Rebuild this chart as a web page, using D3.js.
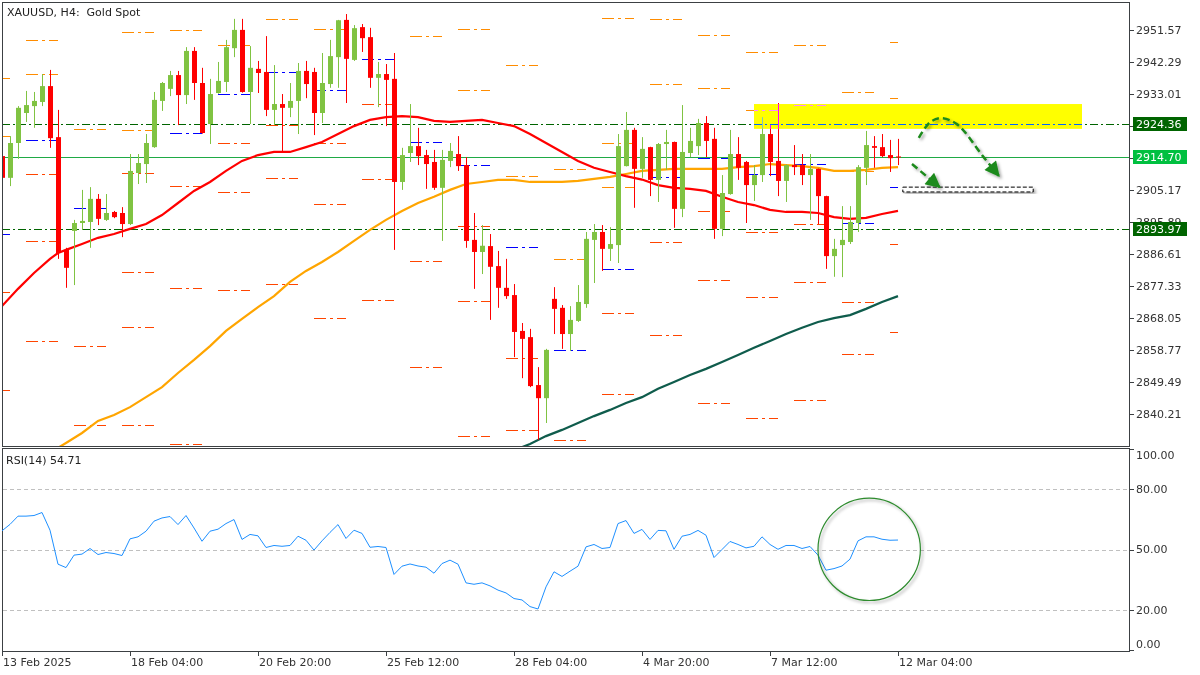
<!DOCTYPE html>
<html><head><meta charset="utf-8">
<script src="https://cdn.jsdelivr.net/npm/d3@7/dist/d3.min.js"></script>
<style>
html,body{margin:0;padding:0;background:#fff;}
svg{display:block;font-family:"DejaVu Sans",Tahoma,sans-serif;}
</style></head><body>
<svg id="c" width="1200" height="675"></svg>
<script>
// ---------------- DATA ----------------
const openP=[2915.0,2908.7,2918.8,2927.5,2929.5,2930.7,2935.3,2920.5,2887.8,2893.3,2895.6,2895.9,2902.6,2896.5,2898.8,2898.5,2895.3,2910.1,2912.7,2917.6,2931.0,2934.5,2938.5,2932.7,2945.5,2936.2,2924.3,2933.3,2936.5,2946.3,2951.6,2933.6,2940.3,2939.4,2928.4,2930.1,2929.0,2931.0,2939.7,2939.4,2927.5,2935.9,2943.7,2954.5,2942.9,2952.4,2949.5,2937.7,2938.8,2937.4,2907.5,2915.9,2917.9,2915.3,2913.3,2905.8,2913.6,2915.6,2912.4,2890.7,2887.2,2888.9,2883.1,2876.8,2874.7,2864.3,2862.5,2848.6,2844.8,2873.6,2871.0,2863.4,2867.2,2872.1,2890.7,2893.0,2888.1,2889.2,2912.1,2922.6,2911.3,2917.6,2908.1,2918.5,2919.1,2899.7,2915.9,2917.9,2924.6,2920.0,2893.9,2904.0,2915.6,2913.3,2906.6,2909.5,2921.4,2913.6,2907.8,2912.4,2912.4,2909.5,2911.3,2903.4,2886.0,2889.2,2890.1,2895.6,2911.6,2917.9,2917.6,2915.3,2914.9];
const highP=[2916.8,2920.8,2929.5,2933.9,2933.6,2938.8,2940.0,2928.4,2888.4,2896.5,2905.2,2906.0,2904.0,2904.0,2899.1,2900.2,2915.6,2915.6,2921.4,2933.6,2936.5,2939.7,2939.7,2946.6,2946.6,2940.6,2937.4,2942.3,2948.7,2954.8,2954.8,2946.9,2942.6,2949.8,2941.4,2933.0,2936.2,2942.0,2942.6,2940.6,2944.9,2948.7,2954.5,2956.2,2953.0,2953.3,2952.2,2942.3,2941.7,2944.9,2917.4,2930.1,2923.2,2916.8,2916.8,2916.8,2918.8,2920.8,2914.7,2898.5,2895.0,2892.4,2887.5,2885.2,2877.9,2866.6,2864.9,2853.8,2859.1,2877.0,2871.8,2871.5,2877.6,2893.0,2895.3,2895.0,2894.4,2921.4,2927.8,2923.2,2920.5,2917.7,2918.8,2922.6,2919.2,2929.8,2923.2,2925.8,2926.6,2923.2,2909.5,2922.6,2920.5,2913.6,2912.4,2926.3,2924.0,2930.4,2912.6,2918.2,2915.6,2915.6,2911.4,2903.5,2891.0,2900.5,2900.5,2912.4,2922.3,2920.8,2921.4,2919.7,2920.0];
const lowP=[2907.5,2906.3,2914.2,2924.9,2923.2,2929.5,2917.4,2885.2,2876.8,2877.6,2893.6,2888.4,2895.0,2896.2,2897.0,2891.5,2895.0,2906.9,2907.2,2917.4,2928.1,2932.4,2924.0,2930.1,2931.3,2921.5,2918.5,2933.1,2933.6,2943.7,2933.4,2924.3,2933.3,2926.6,2924.0,2916.2,2926.3,2921.4,2931.8,2921.1,2924.6,2934.8,2934.8,2930.4,2942.6,2945.2,2934.8,2929.2,2923.7,2887.8,2905.2,2913.3,2912.4,2905.5,2905.2,2890.4,2911.8,2910.7,2888.4,2876.5,2880.8,2867.5,2871.0,2873.6,2856.7,2850.6,2848.0,2832.7,2837.6,2863.4,2859.1,2858.5,2866.9,2871.0,2878.2,2881.7,2884.6,2884.0,2912.0,2900.0,2908.7,2903.4,2901.7,2911.0,2894.2,2897.3,2914.7,2915.3,2914.7,2891.0,2891.8,2903.8,2908.1,2895.6,2902.0,2907.5,2909.2,2903.4,2901.7,2909.5,2906.6,2896.5,2895.3,2882.3,2880.0,2879.9,2889.5,2893.0,2906.6,2911.6,2914.7,2910.4,2912.4];
const closeP=[2908.7,2918.8,2929.0,2929.8,2931.0,2935.3,2920.2,2886.9,2882.6,2895.6,2896.2,2902.6,2896.8,2898.5,2897.3,2895.3,2910.7,2913.0,2918.8,2931.3,2936.2,2938.5,2932.7,2945.5,2936.2,2921.7,2933.0,2936.8,2946.6,2951.6,2933.6,2940.6,2939.1,2928.4,2930.1,2929.0,2931.0,2939.7,2935.9,2927.5,2936.2,2944.0,2954.4,2943.2,2952.1,2949.2,2937.7,2938.8,2937.1,2907.5,2915.3,2917.9,2915.0,2912.7,2905.8,2913.9,2916.5,2912.1,2890.4,2887.2,2889.0,2882.9,2876.8,2874.4,2864.0,2862.0,2848.3,2844.8,2858.8,2870.7,2863.4,2867.5,2872.7,2891.0,2893.0,2888.1,2889.5,2917.9,2922.6,2911.3,2917.1,2908.1,2918.5,2919.1,2899.7,2916.2,2919.4,2924.6,2919.4,2893.9,2904.3,2915.6,2911.6,2906.6,2909.5,2921.4,2913.3,2907.8,2912.4,2911.8,2909.5,2911.3,2903.4,2886.0,2888.1,2890.7,2895.9,2911.8,2918.2,2917.4,2915.0,2914.4,2914.7];

const rsiVals=[59.3,62.5,66.6,66.6,66.9,68.4,59.6,42.7,41.0,47.2,47.7,50.5,47.5,48.5,48.0,47.0,55.3,56.3,59.1,64.1,65.7,66.4,62.4,66.9,60.7,54.1,59.1,60.1,62.9,64.9,55.0,57.5,56.8,51.0,52.0,51.6,52.0,56.6,54.6,49.7,54.3,58.5,62.4,55.5,59.6,58.0,51.1,51.5,51.0,37.6,41.7,42.8,41.8,41.2,38.2,43.0,44.7,42.7,33.4,32.7,33.4,31.9,29.8,28.4,25.6,24.9,21.6,20.4,31.4,38.9,36.6,39.2,41.7,51.3,52.5,50.5,51.0,62.9,64.4,58.0,60.0,55.0,59.5,59.3,50.1,56.6,57.5,59.5,57.1,46.0,50.0,54.0,52.5,50.8,51.6,56.3,52.5,50.1,52.0,52.0,50.5,51.5,47.2,39.7,40.5,41.8,45.2,54.3,56.3,56.3,55.1,54.6,54.71];

const maRedIdx=[0,2,4,6,7,8,10,12,14,16,18,20,22,24,26,28,30,32,34,36,38,40,42,44,46,48,50,52,54,56,58,60,62,64,66,68,70,72,74,76,78,80,82,84,86,88,90,92,94,96,98,100,102,104,106,108,110,112];
const maRedVal=[2871.5,2876.5,2881.1,2885.2,2886.9,2887.8,2889.5,2891.3,2892.4,2893.9,2895.3,2897.9,2901.4,2904.9,2907.5,2910.7,2913.6,2915.3,2916.2,2916.2,2917.6,2919.1,2921.4,2923.7,2925.5,2926.3,2926.6,2926.3,2925.2,2924.9,2925.2,2925.5,2924.6,2923.7,2921.4,2918.8,2916.2,2913.6,2911.6,2910.4,2909.2,2908.2,2906.6,2905.8,2905.5,2904.9,2903.2,2901.7,2900.8,2899.4,2898.8,2898.8,2898.5,2897.3,2896.8,2897.1,2898.2,2899.1];
const maOrgIdx=[7,8,10,12,14,16,18,20,22,24,26,28,30,32,34,36,38,40,42,44,46,48,50,52,54,56,58,60,62,64,66,68,70,72,74,76,78,80,82,84,86,88,90,92,94,96,98,100,102,104,106,108,110,112];
const maOrgVal=[2830.4,2831.8,2834.7,2838.2,2839.9,2842.2,2845.1,2848.0,2852.1,2855.9,2859.9,2864.3,2867.8,2871.2,2874.4,2878.5,2881.7,2884.3,2887.2,2890.4,2893.6,2896.5,2899.1,2901.4,2903.2,2905.2,2906.9,2907.5,2908.1,2908.1,2907.5,2907.5,2907.5,2907.8,2908.4,2909.0,2909.8,2910.7,2911.0,2911.3,2911.3,2911.3,2911.3,2911.8,2912.1,2912.7,2912.4,2912.1,2911.6,2910.7,2910.7,2911.0,2911.6,2911.8];
const maDkIdx=[65,66,68,70,72,74,76,78,80,82,84,86,88,90,92,94,96,98,100,102,104,106,108,110,112];
const maDkVal=[2830.6,2831.5,2833.8,2835.6,2837.6,2839.6,2841.4,2843.4,2845.1,2847.5,2849.5,2851.5,2853.3,2855.3,2857.3,2859.4,2861.4,2863.4,2865.2,2866.9,2868.0,2868.9,2870.7,2872.7,2874.4];

// daily pivot levels, day -1 .. 18
const levelsR=[[2937.6,2920.8],[2948.7,2938.8],[2922.9],[2951.0,2922.6],[2951.6],[2947.2],[2954.8],[2951.9],[],[2949.8],[2951.9,2934.2],[2941.4,2909.2],[2911.3,2885.2],[2955.1,2918.8,2906.0],[2954.8,2935.9],[2950.1,2934.8],[2945.2,2928.4],[2947.2,2929.8],[2933.6,2910.7],[2948.1,2931.8]];
const levelsP=[2892.4,2919.7,2900.0,null,2921.7,2933.0,2939.4,2934.2,2943.2,2919.1,2912.4,2888.6,2858.8,2882.3,2909.0,2914.4,2909.8,2912.7,2895.6,2906.0];
const levelsS=[[2875.6,2847.2],[2909.8,2890.4,2861.4],[2860.0,2837.0],[2910.1,2881.4,2865.4,2837.0],[2906.3,2876.8,2831.5],[2918.8,2904.6,2876.2],[2924.0,2908.7,2877.9],[2918.8,2901.1,2868.0],[2930.1,2908.4,2873.3],[2884.6,2853.8],[2894.7,2873.0,2833.8],[2856.5,2835.6],[2832.7],[2869.5,2846.0],[2890.1,2863.1],[2899.1,2879.1,2843.4],[2893.0,2874.1,2839.0],[2895.3,2878.5,2844.3],[2872.7,2857.6],[2889.5,2864.0]];

const priceTicks=[2951.57,2942.29,2933.01,2923.73,2914.45,2905.17,2895.89,2886.61,2877.33,2868.05,2858.77,2849.49,2840.21];
const rsiTicks=[100,80,50,20,0];
const rsiGrid=[80,50,20];
const timeIdx=[0,16,32,48,64,80,96,112];
const timeLabels=["13 Feb 2025","18 Feb 04:00","20 Feb 20:00","25 Feb 12:00","28 Feb 04:00","4 Mar 20:00","7 Mar 12:00","12 Mar 04:00"];
const hLevels=[2924.36,2893.97];
const lastPrice=2914.70;
const zone={from:94,to:135,top:2930.1,bottom:2922.9};
const curveArrow=[[114.6,2920.3],[116.0,2924.8],[117.4,2926.0],[119.4,2924.2],[122.6,2915.0],[124.6,2909.3]];
const straightArrow=[[113.75,2912.7],[117.2,2906.0]];
const targetBox={from:112.6,to:128.9,top:2906.0,bottom:2904.6};
const rsiCircle={idx:108.4,val:50.1,rBars:6.4};

// ---------------- LAYOUT ----------------
const L=2,R=1130,T=2,B=446,RT=448,RB=651;
const svg=d3.select("#c");
svg.append("rect").attr("width",1200).attr("height",675).attr("fill","#fff");
const defs=svg.append("defs");
defs.append("clipPath").attr("id","clipMain").append("rect").attr("x",L).attr("y",T).attr("width",R-L).attr("height",B-T);
defs.append("clipPath").attr("id","clipRsi").append("rect").attr("x",L).attr("y",RT).attr("width",R-L).attr("height",RB-RT);
const f=defs.append("filter").attr("id","sh").attr("x","-30%").attr("y","-30%").attr("width","160%").attr("height","160%");
f.append("feDropShadow").attr("dx",2).attr("dy",2).attr("stdDeviation",1.6).attr("flood-color","#000").attr("flood-opacity",0.35);
defs.append("marker").attr("id","ah").attr("viewBox","0 0 10 10").attr("refX",9).attr("refY",5)
  .attr("markerUnits","userSpaceOnUse").attr("markerWidth",17).attr("markerHeight",15).attr("orient","auto")
  .append("path").attr("d","M0,0 L10,5 L0,10 Z").attr("fill","#1b8a1b");

const x=d3.scaleLinear().domain([0,112]).range([2,898]);
const y=d3.scaleLinear().domain([2840.21,2951.57]).range([414,30]);
const yr=d3.scaleLinear().domain([0,100]).range([650,449]);

const main=svg.append("g").attr("clip-path","url(#clipMain)");

// daily pivot dashes
const segs=[];
levelsP.forEach((p,j)=>{
  const k=j-1, s=Math.max(0,3+6*k), e=Math.min(112,7+6*k);
  levelsR[j].forEach(v=>segs.push({s,e,v,c:"#ff8c00"}));
  if(p!==null) segs.push({s,e,v:p,c:"#0000ff"});
  levelsS[j].forEach(v=>segs.push({s,e,v,c:"#ff4500"}));
});
main.append("g").selectAll("line").data(segs).join("line")
  .attr("x1",d=>x(d.s)).attr("x2",d=>x(d.e))
  .attr("y1",d=>Math.round(y(d.v))+0.5).attr("y2",d=>Math.round(y(d.v))+0.5)
  .attr("stroke",d=>d.c).attr("stroke-width",1).attr("stroke-dasharray","12,4,3,4");

// horizontal levels
main.append("g").selectAll("line").data(hLevels).join("line")
  .attr("x1",L).attr("x2",R).attr("y1",d=>Math.round(y(d))+0.5).attr("y2",d=>Math.round(y(d))+0.5)
  .attr("stroke","#006400").attr("stroke-dasharray","8,3,2,3");
main.append("line").attr("x1",L).attr("x2",R).attr("y1",Math.round(y(lastPrice))+0.5).attr("y2",Math.round(y(lastPrice))+0.5)
  .attr("stroke","#1faa45").attr("stroke-width",1);

// moving averages
const mline=(idx,val)=>d3.line().x((d,i)=>x(idx[i])).y(d=>y(d))(val);
main.append("path").attr("d",mline(maDkIdx,maDkVal)).attr("fill","none").attr("stroke","#0f5c4c").attr("stroke-width",2.2);
main.append("path").attr("d",mline(maOrgIdx,maOrgVal)).attr("fill","none").attr("stroke","#ffa500").attr("stroke-width",2.2);
main.append("path").attr("d",mline(maRedIdx,maRedVal)).attr("fill","none").attr("stroke","#ff0000").attr("stroke-width",2.2);

// candles
const idx=d3.range(openP.length);
const up=i=>closeP[i]>=openP[i];
const cg=main.append("g");
cg.selectAll("line").data(idx).join("line")
  .attr("x1",i=>Math.round(x(i))+0.5).attr("x2",i=>Math.round(x(i))+0.5)
  .attr("y1",i=>y(highP[i])).attr("y2",i=>y(lowP[i]))
  .attr("stroke",i=>up(i)?"#80c342":"#ff0000").attr("stroke-width",1);
cg.selectAll("rect").data(idx).join("rect")
  .attr("x",i=>Math.round(x(i))-2).attr("width",5)
  .attr("y",i=>y(Math.max(openP[i],closeP[i])))
  .attr("height",i=>Math.max(1,Math.abs(y(openP[i])-y(closeP[i]))))
  .attr("fill",i=>up(i)?"#80c342":"#ff0000");

// zone: inverted region (white -> yellow), drawn straight on the root so it blends with the chart
svg.append("rect").attr("x",x(zone.from)).attr("width",x(zone.to)-x(zone.from))
  .attr("y",y(zone.top)).attr("height",y(zone.bottom)-y(zone.top))
  .attr("fill","#0000ff").style("mix-blend-mode","difference");

const ann=svg.append("g").attr("clip-path","url(#clipMain)");
// target box
ann.append("rect").attr("x",x(targetBox.from)).attr("width",x(targetBox.to)-x(targetBox.from))
  .attr("y",y(targetBox.top)).attr("height",y(targetBox.bottom)-y(targetBox.top))
  .attr("fill","#fff").attr("stroke","#000").attr("stroke-dasharray","4,2").attr("filter","url(#sh)");
// arrows
ann.append("path").attr("d",d3.line().x(d=>x(d[0])).y(d=>y(d[1])).curve(d3.curveCatmullRom)(curveArrow)).attr("fill","none")
  .attr("stroke","#1b8a1b").attr("stroke-width",2.5).attr("stroke-dasharray","7,4")
  .attr("marker-end","url(#ah)").attr("filter","url(#sh)");
ann.append("path").attr("d",d3.line().x(d=>x(d[0])).y(d=>y(d[1]))(straightArrow)).attr("fill","none")
  .attr("stroke","#1b8a1b").attr("stroke-width",2.5).attr("stroke-dasharray","7,4")
  .attr("marker-end","url(#ah)").attr("filter","url(#sh)");

// title
svg.append("text").attr("x",7).attr("y",16).attr("font-size",11).attr("fill","#222")
  .style("white-space","pre").text("XAUUSD, H4:  Gold Spot");

// frames
svg.append("rect").attr("x",L+0.5).attr("y",T+0.5).attr("width",R-L-1).attr("height",B-T).attr("fill","none").attr("stroke","#3c4043");
svg.append("rect").attr("x",L+0.5).attr("y",RT+0.5).attr("width",R-L-1).attr("height",RB-RT).attr("fill","none").attr("stroke","#3c4043");

// price axis
const pa=svg.append("g");
pa.selectAll("line").data(priceTicks).join("line")
  .attr("x1",R).attr("x2",R+4).attr("y1",d=>Math.round(y(d))+0.5).attr("y2",d=>Math.round(y(d))+0.5).attr("stroke","#3c4043");
pa.selectAll("text").data(priceTicks).join("text")
  .attr("x",R+6).attr("y",d=>y(d)).attr("dy","0.36em").attr("font-size",11).attr("fill","#333")
  .text(d=>d.toFixed(2));
// price labels
const plabs=[{v:hLevels[0],bg:"#006400"},{v:lastPrice,bg:"#00c040"},{v:hLevels[1],bg:"#006400"}];
plabs.forEach(p=>{
  const yy=Math.round(y(p.v));
  pa.append("rect").attr("x",R+3).attr("y",yy-7).attr("width",54).attr("height",14).attr("fill",p.bg);
  pa.append("text").attr("x",R+6).attr("y",yy).attr("dy","0.36em").attr("font-size",11).attr("fill","#fff").text(p.v.toFixed(2));
});

// RSI
svg.append("g").selectAll("line").data(rsiGrid).join("line")
  .attr("x1",L+1).attr("x2",R).attr("y1",d=>Math.round(yr(d))+0.5).attr("y2",d=>Math.round(yr(d))+0.5)
  .attr("stroke","#c0c0c0").attr("stroke-dasharray","4,3");
const rg=svg.append("g").attr("clip-path","url(#clipRsi)");
rg.append("path").attr("d",d3.line().x((d,i)=>x(i)).y(d=>yr(d))(rsiVals)).attr("fill","none").attr("stroke","#1e90ff").attr("stroke-width",1);
rg.append("circle").attr("cx",x(rsiCircle.idx)).attr("cy",yr(rsiCircle.val)).attr("r",x(rsiCircle.rBars)-x(0))
  .attr("fill","none").attr("stroke","#2e8b2e").attr("stroke-width",1.2).attr("filter","url(#sh)");
svg.append("text").attr("x",6).attr("y",464).attr("font-size",11).attr("fill","#222").text("RSI(14) "+rsiVals[rsiVals.length-1].toFixed(2));
const ra=svg.append("g");
ra.selectAll("line").data(rsiTicks).join("line")
  .attr("x1",R).attr("x2",R+4).attr("y1",d=>Math.round(yr(d))+0.5).attr("y2",d=>Math.round(yr(d))+0.5).attr("stroke","#3c4043");
ra.selectAll("text").data(rsiTicks).join("text")
  .attr("x",R+6).attr("y",d=>d===100?yr(d)+6:d===0?yr(d)-6:yr(d)).attr("dy","0.36em").attr("font-size",11).attr("fill","#333")
  .text(d=>d.toFixed(2));

// time axis
const ta=svg.append("g");
ta.selectAll("line").data(timeIdx).join("line")
  .attr("x1",d=>Math.round(x(d))+0.5).attr("x2",d=>Math.round(x(d))+0.5).attr("y1",RB).attr("y2",RB+5).attr("stroke","#3c4043");
ta.selectAll("text").data(timeIdx).join("text")
  .attr("x",d=>x(d)+1).attr("y",666).attr("font-size",11).attr("fill","#333")
  .text((d,i)=>timeLabels[i]);
</script></body></html>
